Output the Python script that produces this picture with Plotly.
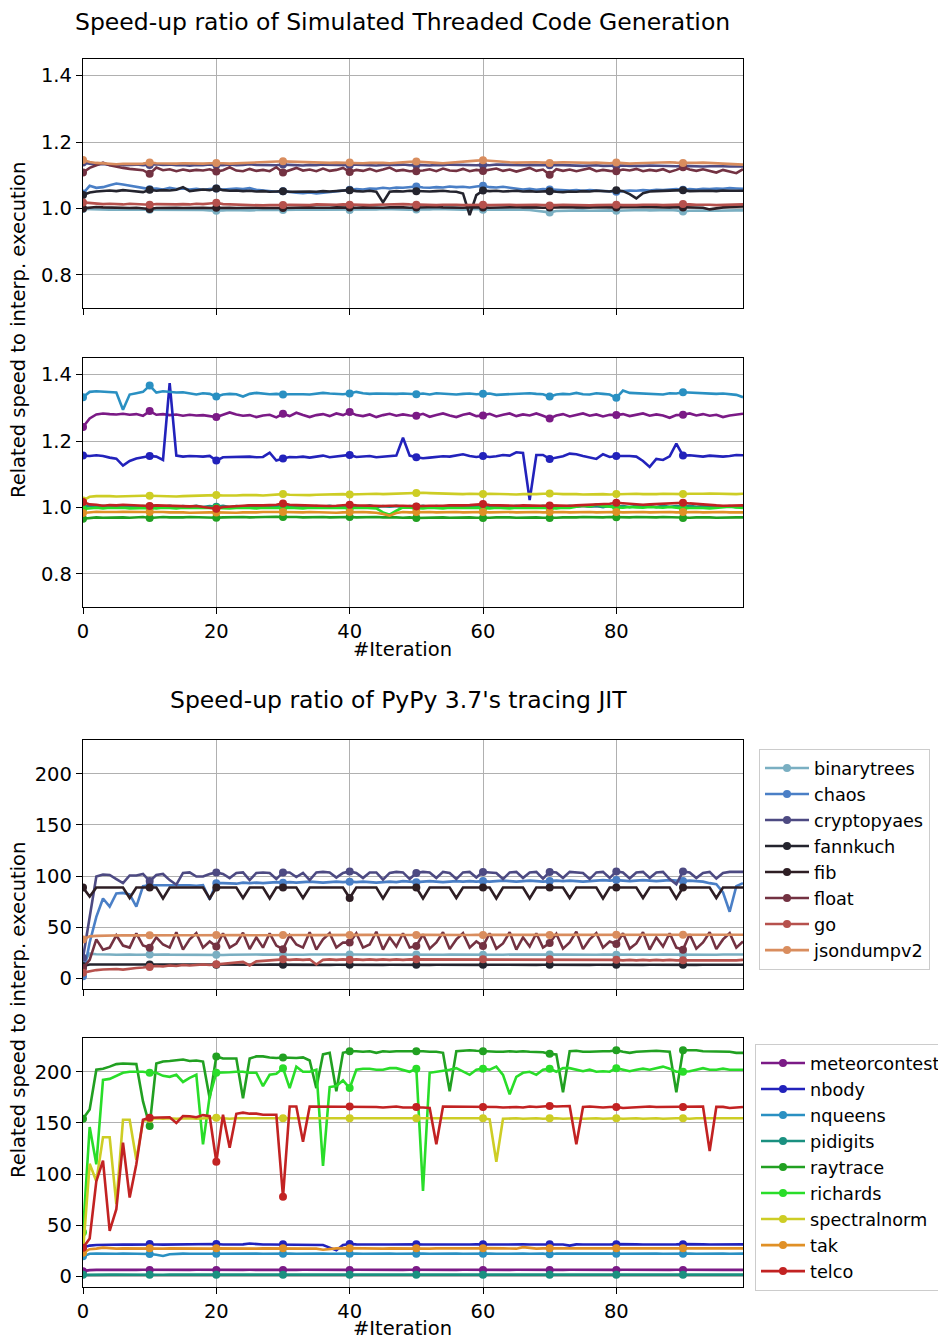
import plotly.graph_objects as go

iterations = list(range(100))

names_a = ["binarytrees", "chaos", "cryptopyaes", "fannkuch", "fib", "float", "go", "jsondumpv2"]
names_b = ["meteorcontest", "nbody", "nqueens", "pidigits", "raytrace", "richards", "spectralnorm", "tak", "telco"]

colors = {
    "binarytrees": "#7aafc2", "chaos": "#4a7fc6", "cryptopyaes": "#4d4a82", "fannkuch": "#24242e",
    "fib": "#2e1e24", "float": "#733242", "go": "#b6514d", "jsondumpv2": "#d98d5e",
    "meteorcontest": "#7b1a86", "nbody": "#2222bb", "nqueens": "#2a90c2", "pidigits": "#1a9080",
    "raytrace": "#21a021", "richards": "#29dd29", "spectralnorm": "#cdcd25", "tak": "#e09026",
    "telco": "#c22222",
}

# ---------------- Simulated Threaded Code Generation: group A ----------------
stcg_binarytrees = [0.998, 0.997, 0.996, 0.997, 0.996, 0.997, 0.996, 0.997, 0.996, 0.996,
0.996, 0.997, 0.996, 0.995, 0.996, 0.996, 0.995, 0.996, 0.995, 0.994,
0.993, 0.994, 0.995, 0.994, 0.995, 0.994, 0.995, 0.996, 0.995, 0.996,
0.995, 0.996, 0.997, 0.996, 0.997, 0.996, 0.996, 0.997, 0.996, 0.997,
0.995, 0.996, 0.997, 0.996, 0.997, 0.998, 0.997, 0.998, 0.997, 0.996,
0.997, 0.996, 0.997, 0.998, 0.997, 0.996, 0.997, 0.996, 0.997, 0.998,
0.996, 0.997, 0.996, 0.997, 0.996, 0.997, 0.996, 0.995, 0.993, 0.990,
0.988, 0.992, 0.993, 0.994, 0.993, 0.994, 0.993, 0.994, 0.995, 0.994,
0.993, 0.994, 0.995, 0.996, 0.995, 0.994, 0.995, 0.996, 0.995, 0.994,
0.991, 0.993, 0.994, 0.995, 0.994, 0.993, 0.994, 0.993, 0.994, 0.994]
stcg_chaos = [1.045, 1.068, 1.062, 1.064, 1.070, 1.075, 1.072, 1.068, 1.064, 1.060,
1.058, 1.060, 1.057, 1.062, 1.058, 1.060, 1.057, 1.059, 1.056, 1.058,
1.060, 1.057, 1.059, 1.060, 1.058, 1.061, 1.056, 1.054, 1.052, 1.050,
1.052, 1.049, 1.047, 1.046, 1.048, 1.045, 1.047, 1.050, 1.052, 1.055,
1.056, 1.058, 1.057, 1.060, 1.059, 1.062, 1.060, 1.063, 1.062, 1.064,
1.066, 1.063, 1.062, 1.064, 1.063, 1.066, 1.064, 1.065, 1.063, 1.066,
1.068, 1.064, 1.063, 1.065, 1.062, 1.060, 1.057, 1.059, 1.056, 1.058,
1.057, 1.055, 1.056, 1.054, 1.055, 1.053, 1.055, 1.054, 1.052, 1.053,
1.050, 1.052, 1.054, 1.053, 1.055, 1.054, 1.056, 1.055, 1.057, 1.058,
1.056, 1.058, 1.057, 1.059, 1.058, 1.060, 1.059, 1.061, 1.060, 1.059]
stcg_cryptopyaes = [1.138, 1.135, 1.132, 1.134, 1.131, 1.132, 1.130, 1.131, 1.132, 1.130,
1.131, 1.133, 1.131, 1.132, 1.130, 1.131, 1.129, 1.131, 1.130, 1.132,
1.131, 1.130, 1.132, 1.130, 1.131, 1.133, 1.131, 1.130, 1.131, 1.130,
1.132, 1.131, 1.130, 1.129, 1.131, 1.130, 1.132, 1.131, 1.130, 1.131,
1.130, 1.132, 1.131, 1.130, 1.129, 1.131, 1.130, 1.131, 1.132, 1.130,
1.131, 1.130, 1.129, 1.131, 1.130, 1.132, 1.131, 1.130, 1.129, 1.130,
1.131, 1.130, 1.132, 1.131, 1.130, 1.129, 1.130, 1.131, 1.130, 1.129,
1.130, 1.131, 1.130, 1.129, 1.130, 1.128, 1.129, 1.130, 1.128, 1.129,
1.128, 1.129, 1.128, 1.127, 1.128, 1.129, 1.128, 1.127, 1.128, 1.127,
1.128, 1.127, 1.128, 1.126, 1.127, 1.128, 1.127, 1.126, 1.127, 1.126]
stcg_fannkuch = [1.040, 1.048, 1.051, 1.053, 1.054, 1.052, 1.055, 1.053, 1.051, 1.049,
1.056, 1.053, 1.055, 1.054, 1.056, 1.064, 1.052, 1.055, 1.057, 1.055,
1.060, 1.055, 1.053, 1.054, 1.052, 1.053, 1.051, 1.052, 1.050, 1.051,
1.052, 1.050, 1.051, 1.052, 1.051, 1.050, 1.052, 1.051, 1.052, 1.053,
1.055, 1.052, 1.051, 1.053, 1.050, 1.018, 1.050, 1.052, 1.051, 1.053,
1.052, 1.053, 1.051, 1.052, 1.053, 1.051, 1.050, 1.045, 0.980, 1.040,
1.054, 1.052, 1.053, 1.051, 1.052, 1.053, 1.051, 1.052, 1.050, 1.051,
1.052, 1.050, 1.049, 1.051, 1.050, 1.052, 1.051, 1.053, 1.052, 1.051,
1.055, 1.052, 1.043, 1.030, 1.046, 1.051, 1.052, 1.053, 1.052, 1.054,
1.055, 1.052, 1.053, 1.054, 1.053, 1.052, 1.054, 1.053, 1.052, 1.053]
stcg_fib = [1.000, 1.003, 1.004, 1.003, 1.002, 1.003, 1.002, 1.001, 1.002, 1.001,
0.998, 1.001, 1.002, 1.001, 1.002, 1.001, 1.002, 1.003, 1.002, 1.001,
1.002, 1.001, 1.002, 1.001, 1.002, 1.003, 1.002, 1.001, 1.002, 1.001,
1.001, 1.002, 1.001, 1.002, 1.003, 1.002, 1.001, 1.002, 1.003, 1.002,
1.003, 1.002, 1.003, 1.002, 1.003, 1.002, 1.003, 1.004, 1.003, 1.002,
1.003, 1.002, 1.003, 1.004, 1.003, 1.002, 1.003, 1.002, 1.003, 1.004,
1.003, 1.002, 1.003, 1.002, 1.003, 1.004, 1.003, 1.004, 1.003, 1.002,
1.003, 1.004, 1.003, 1.004, 1.003, 1.002, 1.003, 1.004, 1.003, 1.004,
1.003, 1.004, 1.003, 1.004, 1.005, 1.004, 1.003, 1.004, 1.003, 1.004,
1.003, 1.004, 1.003, 1.002, 0.997, 1.001, 1.003, 1.004, 1.005, 1.006]
stcg_float = [1.108, 1.122, 1.130, 1.138, 1.130, 1.125, 1.122, 1.119, 1.117, 1.115,
1.104, 1.123, 1.115, 1.118, 1.112, 1.117, 1.113, 1.116, 1.114, 1.118,
1.111, 1.115, 1.124, 1.114, 1.112, 1.119, 1.113, 1.116, 1.112, 1.124,
1.108, 1.115, 1.122, 1.114, 1.117, 1.112, 1.120, 1.113, 1.116, 1.122,
1.110, 1.116, 1.113, 1.119, 1.112, 1.117, 1.123, 1.113, 1.116, 1.112,
1.112, 1.114, 1.118, 1.112, 1.120, 1.114, 1.113, 1.119, 1.112, 1.116,
1.113, 1.116, 1.120, 1.113, 1.117, 1.111, 1.116, 1.122, 1.113, 1.117,
1.101, 1.118, 1.113, 1.117, 1.112, 1.116, 1.121, 1.112, 1.116, 1.113,
1.112, 1.117, 1.114, 1.119, 1.112, 1.116, 1.113, 1.118, 1.110, 1.116,
1.124, 1.117, 1.113, 1.118, 1.112, 1.108, 1.116, 1.110, 1.106, 1.118]
stcg_go = [1.018, 1.016, 1.015, 1.013, 1.014, 1.013, 1.012, 1.014, 1.013, 1.012,
1.011, 1.013, 1.012, 1.011, 1.012, 1.013, 1.012, 1.014, 1.013, 1.015,
1.017, 1.013, 1.012, 1.011, 1.010, 1.011, 1.010, 1.009, 1.010, 1.009,
1.010, 1.011, 1.010, 1.011, 1.010, 1.012, 1.011, 1.010, 1.011, 1.012,
1.011, 1.012, 1.011, 1.010, 1.011, 1.012, 1.011, 1.012, 1.013, 1.012,
1.011, 1.012, 1.011, 1.010, 1.011, 1.012, 1.011, 1.010, 1.011, 1.010,
1.011, 1.010, 1.011, 1.012, 1.011, 1.010, 1.011, 1.010, 1.011, 1.010,
1.009, 1.010, 1.011, 1.010, 1.011, 1.010, 1.009, 1.010, 1.011, 1.010,
1.011, 1.010, 1.009, 1.010, 1.011, 1.012, 1.011, 1.010, 1.011, 1.012,
1.013, 1.012, 1.011, 1.012, 1.011, 1.010, 1.011, 1.012, 1.011, 1.012]
stcg_jsondumpv2 = [1.146, 1.140, 1.137, 1.135, 1.134, 1.133, 1.134, 1.133, 1.134, 1.135,
1.138, 1.136, 1.135, 1.134, 1.135, 1.136, 1.135, 1.134, 1.135, 1.136,
1.137, 1.136, 1.135, 1.136, 1.137, 1.136, 1.138, 1.139, 1.140, 1.141,
1.142, 1.141, 1.140, 1.139, 1.138, 1.137, 1.138, 1.137, 1.138, 1.137,
1.138, 1.137, 1.136, 1.137, 1.138, 1.137, 1.136, 1.138, 1.139, 1.140,
1.141, 1.139, 1.138, 1.137, 1.136, 1.138, 1.140, 1.142, 1.143, 1.144,
1.145, 1.143, 1.141, 1.140, 1.139, 1.138, 1.139, 1.140, 1.139, 1.138,
1.137, 1.138, 1.139, 1.138, 1.137, 1.136, 1.137, 1.138, 1.137, 1.136,
1.138, 1.136, 1.135, 1.136, 1.137, 1.138, 1.139, 1.140, 1.139, 1.138,
1.137, 1.136, 1.137, 1.138, 1.137, 1.136, 1.135, 1.134, 1.133, 1.132]

# ---------------- Simulated Threaded Code Generation: group B ----------------
stcg_meteorcontest = [1.242, 1.268, 1.280, 1.283, 1.281, 1.280, 1.282, 1.279, 1.281, 1.276,
1.290, 1.279, 1.281, 1.278, 1.280, 1.276, 1.279, 1.277, 1.278, 1.276,
1.272, 1.279, 1.286, 1.280, 1.276, 1.278, 1.272, 1.277, 1.279, 1.271,
1.282, 1.275, 1.285, 1.278, 1.272, 1.278, 1.281, 1.275, 1.283, 1.278,
1.287, 1.278, 1.275, 1.280, 1.272, 1.278, 1.282, 1.276, 1.280, 1.277,
1.276, 1.282, 1.273, 1.278, 1.283, 1.277, 1.272, 1.279, 1.283, 1.275,
1.277, 1.282, 1.274, 1.279, 1.283, 1.275, 1.280, 1.277, 1.283, 1.276,
1.268, 1.277, 1.281, 1.274, 1.279, 1.283, 1.276, 1.280, 1.274, 1.279,
1.278, 1.281, 1.275, 1.279, 1.283, 1.276, 1.280, 1.277, 1.270, 1.278,
1.279, 1.283, 1.277, 1.281, 1.276, 1.279, 1.272, 1.277, 1.280, 1.282]
stcg_nbody = [1.156, 1.155, 1.157, 1.155, 1.150, 1.147, 1.126, 1.140, 1.147, 1.152,
1.155, 1.153, 1.143, 1.374, 1.156, 1.153, 1.155, 1.154, 1.153, 1.155,
1.141, 1.151, 1.152, 1.151, 1.152, 1.153, 1.151, 1.152, 1.165, 1.141,
1.147, 1.152, 1.151, 1.153, 1.150, 1.152, 1.156, 1.151, 1.154, 1.155,
1.158, 1.152, 1.153, 1.155, 1.151, 1.152, 1.154, 1.156, 1.210, 1.156,
1.151, 1.148, 1.150, 1.152, 1.154, 1.153, 1.157, 1.160, 1.155, 1.152,
1.155, 1.152, 1.154, 1.158, 1.156, 1.166, 1.164, 1.022, 1.158, 1.158,
1.146, 1.150, 1.154, 1.162, 1.160, 1.155, 1.150, 1.146, 1.160, 1.152,
1.155, 1.156, 1.155, 1.153, 1.140, 1.122, 1.146, 1.143, 1.154, 1.192,
1.156, 1.157, 1.155, 1.153, 1.156, 1.154, 1.153, 1.155, 1.158, 1.157]
stcg_nqueens = [1.332, 1.348, 1.350, 1.348, 1.347, 1.346, 1.294, 1.340, 1.344, 1.348,
1.367, 1.346, 1.350, 1.347, 1.346, 1.347, 1.343, 1.340, 1.344, 1.342,
1.334, 1.340, 1.342, 1.341, 1.334, 1.342, 1.345, 1.343, 1.341, 1.342,
1.340, 1.341, 1.342, 1.341, 1.340, 1.342, 1.345, 1.343, 1.342, 1.341,
1.343, 1.348, 1.344, 1.342, 1.343, 1.342, 1.341, 1.342, 1.343, 1.342,
1.341, 1.343, 1.340, 1.344, 1.342, 1.341, 1.340, 1.342, 1.343, 1.341,
1.342, 1.343, 1.339, 1.340, 1.342, 1.341, 1.343, 1.344, 1.342, 1.341,
1.334, 1.340, 1.342, 1.341, 1.345, 1.341, 1.340, 1.344, 1.342, 1.340,
1.330, 1.352, 1.345, 1.344, 1.343, 1.341, 1.342, 1.340, 1.344, 1.343,
1.347, 1.346, 1.343, 1.342, 1.341, 1.342, 1.343, 1.341, 1.339, 1.332]
stcg_pidigits = [1.000, 1.006, 1.002, 1.005, 1.001, 1.004, 1.001, 1.005, 1.002, 1.004,
1.003, 1.006, 1.002, 1.005, 1.001, 1.004, 1.002, 1.005, 1.001, 1.004,
1.002, 1.005, 1.001, 1.004, 1.002, 1.006, 1.002, 1.005, 1.001, 1.004,
1.003, 1.006, 1.002, 1.005, 1.001, 1.004, 1.002, 1.005, 1.001, 1.004,
1.003, 1.005, 1.002, 1.006, 1.001, 1.004, 1.002, 1.005, 1.001, 1.004,
1.002, 1.005, 1.001, 1.004, 1.002, 1.005, 1.001, 1.004, 1.002, 1.006,
1.003, 1.005, 1.002, 1.004, 1.001, 1.005, 1.002, 1.004, 1.001, 1.005,
1.002, 1.004, 1.001, 1.005, 1.002, 1.006, 1.002, 1.004, 1.001, 1.005,
1.002, 1.004, 1.001, 1.005, 1.002, 1.004, 1.001, 1.005, 1.002, 1.004,
1.003, 1.005, 1.002, 1.004, 1.001, 1.005, 1.002, 1.004, 1.001, 1.003]
stcg_raytrace = [0.966, 0.968, 0.970, 0.969, 0.970, 0.971, 0.970, 0.969, 0.970, 0.971,
0.968, 0.970, 0.971, 0.970, 0.969, 0.970, 0.971, 0.970, 0.971, 0.970,
0.969, 0.970, 0.971, 0.972, 0.971, 0.970, 0.971, 0.970, 0.971, 0.972,
0.971, 0.972, 0.971, 0.970, 0.971, 0.972, 0.971, 0.970, 0.971, 0.972,
0.971, 0.970, 0.971, 0.972, 0.971, 0.970, 0.971, 0.970, 0.969, 0.970,
0.968, 0.969, 0.970, 0.971, 0.970, 0.969, 0.970, 0.971, 0.970, 0.969,
0.968, 0.969, 0.970, 0.971, 0.970, 0.969, 0.970, 0.971, 0.970, 0.969,
0.968, 0.969, 0.970, 0.969, 0.970, 0.971, 0.970, 0.969, 0.970, 0.971,
0.970, 0.969, 0.970, 0.971, 0.970, 0.969, 0.970, 0.971, 0.970, 0.969,
0.968, 0.969, 0.970, 0.971, 0.970, 0.969, 0.970, 0.971, 0.970, 0.970]
stcg_richards = [0.995, 0.998, 0.999, 0.997, 0.999, 0.998, 0.999, 0.997, 0.998, 0.999,
0.998, 0.997, 0.999, 0.998, 0.997, 0.999, 0.998, 0.997, 0.998, 0.999,
0.998, 0.999, 0.997, 0.998, 0.999, 0.998, 0.997, 0.999, 0.998, 0.997,
0.998, 0.999, 0.998, 0.997, 0.999, 0.998, 0.997, 0.998, 0.999, 0.998,
0.997, 0.998, 0.999, 0.998, 0.997, 0.985, 0.978, 0.990, 1.000, 0.999,
0.998, 0.997, 0.999, 0.998, 0.997, 0.999, 0.998, 0.997, 0.998, 0.999,
0.998, 0.997, 0.999, 0.998, 0.997, 0.999, 0.998, 0.997, 0.998, 0.999,
0.998, 0.997, 0.999, 0.998, 1.002, 1.005, 1.003, 1.009, 1.004, 1.001,
1.000, 0.999, 1.001, 1.000, 0.999, 1.001, 1.000, 0.999, 1.001, 0.998,
0.997, 0.998, 0.999, 0.998, 0.997, 0.999, 1.001, 1.002, 1.000, 0.998]
stcg_spectralnorm = [1.021, 1.032, 1.034, 1.035, 1.034, 1.033, 1.034, 1.035, 1.034, 1.035,
1.035, 1.034, 1.033, 1.034, 1.033, 1.034, 1.035, 1.034, 1.035, 1.036,
1.037, 1.036, 1.035, 1.036, 1.037, 1.038, 1.037, 1.036, 1.037, 1.038,
1.040, 1.038, 1.037, 1.038, 1.037, 1.038, 1.039, 1.038, 1.039, 1.040,
1.039, 1.040, 1.039, 1.040, 1.041, 1.040, 1.041, 1.042, 1.041, 1.042,
1.043, 1.044, 1.043, 1.042, 1.041, 1.040, 1.041, 1.040, 1.041, 1.040,
1.040, 1.041, 1.040, 1.041, 1.040, 1.039, 1.040, 1.039, 1.040, 1.041,
1.042, 1.041, 1.040, 1.041, 1.040, 1.039, 1.040, 1.041, 1.040, 1.039,
1.040, 1.041, 1.040, 1.041, 1.040, 1.039, 1.040, 1.041, 1.040, 1.041,
1.040, 1.041, 1.040, 1.041, 1.042, 1.041, 1.040, 1.041, 1.040, 1.041]
stcg_tak = [0.983, 0.986, 0.987, 0.986, 0.985, 0.986, 0.987, 0.986, 0.985, 0.986,
0.986, 0.987, 0.986, 0.985, 0.986, 0.985, 0.984, 0.985, 0.984, 0.985,
0.985, 0.984, 0.985, 0.984, 0.985, 0.984, 0.985, 0.986, 0.985, 0.986,
0.986, 0.985, 0.986, 0.985, 0.986, 0.985, 0.984, 0.985, 0.984, 0.985,
0.986, 0.985, 0.986, 0.985, 0.984, 0.980, 0.975, 0.983, 0.986, 0.985,
0.986, 0.985, 0.986, 0.985, 0.986, 0.987, 0.986, 0.985, 0.986, 0.985,
0.986, 0.985, 0.986, 0.985, 0.986, 0.985, 0.986, 0.985, 0.986, 0.985,
0.986, 0.985, 0.986, 0.985, 0.986, 0.985, 0.986, 0.985, 0.986, 0.985,
0.986, 0.985, 0.986, 0.985, 0.986, 0.985, 0.986, 0.985, 0.986, 0.985,
0.986, 0.985, 0.986, 0.985, 0.986, 0.985, 0.986, 0.985, 0.986, 0.985]
stcg_telco = [1.016, 1.009, 1.008, 1.005, 1.007, 1.006, 1.008, 1.007, 1.006, 1.005,
1.004, 1.006, 1.005, 1.004, 1.005, 1.004, 1.003, 1.004, 1.002, 1.000,
0.996, 1.001, 1.003, 1.004, 1.005, 1.006, 1.005, 1.006, 1.007, 1.008,
1.012, 1.008, 1.007, 1.006, 1.005, 1.006, 1.005, 1.004, 1.005, 1.006,
1.008, 1.006, 1.005, 1.004, 1.003, 1.004, 1.005, 1.006, 1.005, 1.004,
1.003, 1.004, 1.005, 1.004, 1.005, 1.006, 1.005, 1.006, 1.007, 1.008,
1.010, 1.007, 1.006, 1.005, 1.004, 1.005, 1.006, 1.005, 1.004, 1.005,
1.006, 1.005, 1.006, 1.005, 1.006, 1.007, 1.008, 1.007, 1.009, 1.011,
1.014, 1.012, 1.010, 1.009, 1.008, 1.009, 1.010, 1.011, 1.012, 1.013,
1.014, 1.012, 1.010, 1.008, 1.007, 1.006, 1.005, 1.006, 1.005, 1.006]

# ---------------- PyPy 3.7 tracing JIT: group A ----------------
pypy_binarytrees = [15.0, 24.0, 23.5, 23.0, 23.2, 23.0, 23.3, 23.1, 23.0, 23.2,
23.2, 23.0, 23.3, 23.1, 23.0, 23.2, 23.1, 23.0, 23.2, 23.1,
23.0, 22.8, 23.0, 23.2, 23.1, 23.0, 23.2, 23.1, 23.0, 23.2,
23.1, 23.3, 23.1, 23.0, 23.2, 23.1, 23.0, 23.2, 23.1, 23.0,
23.2, 23.3, 23.1, 23.0, 23.2, 23.1, 23.0, 23.2, 23.1, 23.0,
23.2, 23.1, 23.3, 23.1, 23.0, 23.2, 23.1, 23.0, 23.2, 23.1,
23.0, 23.2, 23.1, 23.0, 23.2, 23.1, 23.0, 23.2, 23.1, 23.0,
23.2, 23.1, 23.3, 23.1, 23.0, 23.2, 23.1, 23.0, 23.2, 23.1,
23.0, 23.2, 23.1, 23.0, 23.2, 23.1, 23.0, 23.2, 23.1, 23.0,
23.2, 23.1, 23.0, 23.2, 23.1, 23.0, 23.2, 23.1, 23.0, 23.2]
pypy_chaos = [2.0, 35.0, 60.0, 78.0, 70.0, 83.0, 83.5, 82.0, 70.0, 90.0,
91.0, 91.0, 91.0, 91.0, 91.0, 91.5, 91.0, 90.5, 91.0, 77.0,
93.0, 93.0, 93.0, 92.5, 93.5, 93.0, 93.5, 93.0, 93.5, 94.0,
93.5, 94.0, 93.5, 94.0, 94.5, 94.0, 93.5, 94.0, 94.5, 94.0,
94.5, 94.0, 94.5, 94.0, 93.5, 94.0, 94.5, 94.0, 95.0, 94.5,
94.0, 94.5, 95.0, 94.5, 94.0, 94.5, 95.0, 94.5, 95.0, 94.5,
95.0, 94.5, 95.0, 95.5, 95.0, 94.5, 95.0, 95.5, 95.0, 94.5,
95.0, 95.5, 95.0, 95.5, 95.0, 94.5, 95.0, 95.5, 96.0, 95.5,
96.0, 95.5, 95.0, 95.5, 96.0, 95.5, 95.0, 95.5, 96.0, 95.5,
95.0, 95.5, 95.0, 94.5, 93.0, 92.0, 84.0, 65.0, 90.0, 93.0]
pypy_cryptopyaes = [20.0, 60.0, 99.5, 101.5, 101.0, 97.0, 93.0, 100.5, 100.5, 102.0,
95.0, 101.0, 102.0, 96.0, 91.5, 103.0, 103.5, 99.5, 99.5, 102.0,
103.5, 102.0, 98.0, 103.0, 103.5, 96.0, 103.0, 103.5, 103.0, 97.0,
103.5, 103.5, 99.0, 103.0, 96.0, 103.5, 104.0, 103.5, 98.5, 103.0,
104.5, 103.0, 98.0, 103.5, 103.5, 96.5, 103.0, 104.0, 103.5, 97.0,
103.0, 104.0, 103.5, 98.0, 104.0, 103.0, 97.0, 103.5, 104.0, 98.5,
104.0, 103.5, 103.0, 97.0, 103.5, 104.0, 98.0, 103.5, 104.0, 97.5,
104.0, 103.5, 98.0, 104.0, 103.5, 103.0, 97.0, 103.5, 104.0, 98.0,
104.5, 103.5, 97.5, 103.5, 104.0, 98.0, 103.5, 104.0, 97.0, 92.0,
104.5, 103.5, 98.0, 103.0, 104.0, 97.5, 103.0, 104.0, 104.0, 104.0]
pypy_fannkuch = [12.0, 13.5, 13.4, 13.5, 13.3, 13.4, 13.5, 13.4, 13.3, 13.4,
13.5, 13.4, 13.3, 13.4, 13.5, 13.4, 13.3, 13.4, 13.5, 13.4,
13.3, 13.4, 13.3, 13.2, 13.3, 13.2, 13.3, 13.2, 13.3, 13.2,
13.2, 13.3, 13.2, 13.1, 13.2, 13.3, 13.2, 13.1, 13.2, 13.1,
13.2, 13.1, 13.2, 13.1, 13.2, 13.1, 13.2, 13.1, 13.2, 13.1,
13.1, 13.2, 13.1, 13.2, 13.1, 13.2, 13.1, 13.2, 13.1, 13.2,
13.1, 13.2, 13.1, 13.2, 13.1, 13.2, 13.1, 13.2, 13.1, 13.2,
13.1, 13.2, 13.1, 13.2, 13.1, 13.2, 13.1, 13.2, 13.1, 13.2,
13.1, 13.2, 13.1, 13.2, 13.1, 13.2, 13.1, 13.2, 13.1, 13.2,
13.1, 13.2, 13.1, 13.2, 13.1, 13.2, 13.1, 13.2, 13.1, 13.2]
pypy_fib = [88.8, 80.0, 88.8, 88.8, 88.8, 88.8, 88.8, 78.5, 88.8, 88.8,
88.8, 88.8, 78.0, 88.8, 88.8, 88.8, 88.8, 88.8, 88.8, 78.0,
88.8, 88.8, 88.8, 88.8, 78.5, 88.8, 88.8, 88.8, 78.0, 88.8,
88.8, 88.8, 88.8, 78.5, 88.8, 88.8, 88.8, 88.8, 88.8, 88.8,
78.5, 88.8, 88.8, 88.8, 88.8, 78.0, 88.8, 88.8, 88.8, 88.8,
88.8, 78.0, 88.8, 88.8, 88.8, 88.8, 78.5, 88.8, 88.8, 88.8,
88.8, 88.8, 78.0, 88.8, 88.8, 88.8, 88.8, 78.0, 88.8, 88.8,
88.8, 88.8, 88.8, 78.5, 88.8, 88.8, 88.8, 88.8, 78.0, 88.8,
88.8, 88.8, 88.8, 88.8, 78.5, 88.8, 88.8, 88.8, 88.8, 78.0,
88.8, 88.8, 88.8, 88.8, 88.8, 78.5, 88.8, 88.8, 88.8, 88.8]
pypy_float = [10.0, 18.0, 38.0, 28.0, 30.0, 42.0, 32.0, 30.0, 44.0, 32.0,
29.8, 40.0, 33.0, 30.0, 45.0, 28.0, 38.0, 44.0, 30.0, 36.0,
31.0, 44.0, 30.0, 34.0, 44.5, 28.5, 40.0, 30.0, 44.0, 32.0,
28.4, 42.0, 33.0, 30.0, 45.0, 28.0, 38.0, 44.0, 30.0, 35.0,
34.9, 44.0, 30.0, 33.0, 45.5, 28.0, 40.0, 31.0, 44.0, 30.0,
31.6, 43.0, 29.0, 35.0, 45.0, 28.5, 38.0, 44.0, 30.0, 36.0,
31.5, 44.0, 29.0, 34.0, 45.0, 28.0, 40.0, 31.0, 44.0, 30.0,
34.5, 43.5, 29.0, 35.0, 45.5, 28.5, 38.0, 44.0, 30.0, 36.0,
33.5, 44.0, 29.0, 34.0, 45.0, 28.0, 40.0, 31.0, 44.0, 30.0,
28.0, 43.0, 29.0, 35.0, 45.0, 28.5, 38.0, 44.0, 30.0, 36.0]
pypy_go = [5.5, 7.0, 8.0, 8.5, 8.8, 9.0, 8.5, 9.5, 10.0, 10.5,
11.0, 12.0, 11.5, 12.5, 12.0, 13.0, 12.5, 13.0, 13.5, 13.0,
13.6, 14.5, 15.0, 15.5, 16.0, 12.5, 16.5, 17.0, 17.5, 17.5,
18.5, 18.0, 18.5, 18.0, 18.5, 13.5, 18.0, 18.5, 18.0, 18.5,
18.0, 18.5, 18.0, 18.5, 18.0, 18.5, 18.0, 18.5, 18.0, 18.5,
18.5, 18.0, 18.5, 18.0, 18.5, 18.0, 18.5, 18.0, 18.5, 18.0,
18.5, 18.0, 18.5, 18.0, 18.5, 18.0, 18.5, 18.0, 18.5, 18.0,
18.5, 18.0, 18.5, 18.0, 18.5, 18.0, 18.5, 18.0, 18.5, 18.0,
18.0, 17.5, 18.0, 17.5, 18.0, 17.5, 18.0, 17.5, 18.0, 17.5,
17.5, 17.0, 17.5, 17.0, 17.5, 17.0, 17.5, 17.0, 17.5, 18.0]
pypy_jsondumpv2 = [38.0, 41.0, 41.5, 41.8, 42.0, 41.8, 42.0, 41.9, 42.0, 42.1,
42.0, 42.1, 42.0, 41.9, 42.0, 42.1, 42.0, 42.1, 42.2, 42.1,
42.2, 42.1, 42.2, 42.1, 42.2, 42.1, 42.2, 42.3, 42.2, 42.1,
42.2, 42.3, 42.2, 42.3, 42.2, 42.3, 42.2, 42.3, 42.2, 42.3,
42.3, 42.2, 42.3, 42.4, 42.3, 42.2, 42.3, 42.4, 42.3, 42.2,
42.3, 42.4, 42.3, 42.4, 42.3, 42.4, 42.3, 42.4, 42.3, 42.4,
42.4, 42.3, 42.4, 42.5, 42.4, 42.3, 42.4, 42.5, 42.4, 42.3,
42.4, 42.5, 42.4, 42.5, 42.4, 42.5, 42.4, 42.5, 42.4, 42.5,
42.5, 42.4, 42.5, 42.6, 42.5, 42.4, 42.5, 42.6, 42.5, 42.4,
42.5, 42.6, 42.5, 42.6, 42.5, 42.6, 42.5, 42.6, 42.5, 42.6]

# ---------------- PyPy 3.7 tracing JIT: group B ----------------
pypy_meteorcontest = [5.0, 6.0, 6.2, 6.1, 6.2, 6.3, 6.2, 6.1, 6.2, 6.3,
6.2, 6.1, 6.2, 6.3, 6.2, 6.1, 6.2, 6.3, 6.2, 6.1,
6.2, 6.3, 6.2, 6.1, 6.2, 6.3, 6.2, 6.1, 6.2, 6.3,
6.2, 6.1, 6.2, 6.3, 6.2, 6.1, 6.2, 6.3, 6.2, 6.1,
6.2, 6.3, 6.2, 6.1, 6.2, 6.3, 6.2, 6.1, 6.2, 6.3,
6.2, 6.1, 6.2, 6.3, 6.2, 6.1, 6.2, 6.3, 6.2, 6.1,
6.2, 6.3, 6.2, 6.1, 6.2, 6.3, 6.2, 6.1, 6.2, 6.3,
6.2, 6.1, 6.2, 6.3, 6.2, 6.1, 6.2, 6.3, 6.2, 6.1,
6.2, 6.3, 6.2, 6.1, 6.2, 6.3, 6.2, 6.1, 6.2, 6.3,
6.2, 6.1, 6.2, 6.3, 6.2, 6.1, 6.2, 6.3, 6.2, 6.2]
pypy_nbody = [28.0, 30.0, 30.5, 30.8, 31.0, 30.8, 31.0, 30.9, 31.0, 31.1,
31.5, 31.0, 30.9, 31.0, 31.1, 31.0, 30.9, 31.0, 31.1, 31.0,
31.5, 31.0, 30.9, 31.0, 31.2, 32.0, 31.3, 31.0, 31.1, 31.0,
31.2, 31.1, 31.0, 31.2, 31.1, 31.0, 30.5, 28.0, 25.5, 30.5,
31.5, 31.2, 31.0, 31.1, 31.0, 31.1, 31.0, 31.2, 31.1, 31.0,
31.3, 31.1, 31.0, 31.2, 31.1, 31.0, 31.2, 31.1, 31.0, 31.2,
31.4, 31.1, 31.0, 31.2, 31.1, 31.0, 31.2, 31.1, 31.0, 31.2,
31.4, 31.2, 31.0, 30.0, 31.2, 31.1, 31.0, 31.2, 31.1, 31.0,
31.4, 31.1, 31.0, 31.2, 31.1, 31.0, 31.2, 31.1, 31.0, 31.2,
31.4, 31.1, 31.0, 31.2, 31.1, 31.0, 31.2, 31.1, 31.0, 31.2]
pypy_nqueens = [19.5, 22.0, 22.2, 22.0, 22.1, 22.0, 22.2, 22.1, 22.0, 22.1,
21.8, 21.0, 19.8, 21.5, 22.0, 22.1, 22.0, 22.2, 22.1, 22.0,
22.0, 22.1, 22.0, 22.2, 22.1, 22.0, 22.1, 22.0, 22.2, 22.1,
22.0, 22.1, 22.0, 22.2, 22.1, 22.0, 22.1, 22.0, 22.2, 22.1,
22.0, 22.1, 22.0, 22.2, 22.1, 22.0, 22.1, 22.0, 22.2, 22.1,
22.0, 22.1, 22.0, 22.2, 22.1, 22.0, 22.1, 22.0, 22.2, 22.1,
22.0, 22.1, 22.0, 22.2, 22.1, 22.0, 22.1, 22.0, 22.2, 22.1,
21.5, 22.3, 22.1, 22.2, 22.1, 22.0, 22.1, 22.0, 22.2, 22.1,
22.0, 22.1, 22.0, 22.2, 22.1, 22.0, 22.1, 22.0, 22.2, 22.1,
22.0, 22.1, 22.0, 22.2, 22.1, 22.0, 22.1, 22.0, 22.2, 22.1]
pypy_pidigits = [1.4, 1.6, 1.6, 1.5, 1.6, 1.6, 1.5, 1.6, 1.6, 1.5,
1.6, 1.6, 1.5, 1.6, 1.6, 1.5, 1.6, 1.6, 1.5, 1.6,
1.6, 1.6, 1.5, 1.6, 1.6, 1.5, 1.6, 1.6, 1.5, 1.6,
1.6, 1.6, 1.5, 1.6, 1.6, 1.5, 1.6, 1.6, 1.5, 1.6,
1.6, 1.6, 1.5, 1.6, 1.6, 1.5, 1.6, 1.6, 1.5, 1.6,
1.6, 1.6, 1.5, 1.6, 1.6, 1.5, 1.6, 1.6, 1.5, 1.6,
1.6, 1.6, 1.5, 1.6, 1.6, 1.5, 1.6, 1.6, 1.5, 1.6,
1.6, 1.6, 1.5, 1.6, 1.6, 1.5, 1.6, 1.6, 1.5, 1.6,
1.6, 1.6, 1.5, 1.6, 1.6, 1.5, 1.6, 1.6, 1.5, 1.6,
1.6, 1.6, 1.5, 1.6, 1.6, 1.5, 1.6, 1.6, 1.5, 1.6]
pypy_raytrace = [154.0, 163.0, 202.0, 203.0, 205.0, 207.5, 208.0, 208.0, 207.5, 171.0,
147.0, 208.0, 210.0, 210.5, 211.0, 212.0, 210.5, 211.0, 210.0, 174.0,
215.0, 213.0, 213.0, 213.0, 174.0, 213.0, 215.0, 215.0, 214.0, 213.5,
214.0, 213.5, 213.5, 214.0, 211.0, 184.0, 217.0, 218.5, 181.0, 218.5,
220.0, 220.0, 219.5, 220.0, 218.5, 220.0, 219.5, 220.0, 220.0, 220.5,
220.0, 220.0, 219.5, 219.5, 218.5, 181.0, 220.0, 220.5, 221.0, 220.5,
220.0, 219.5, 219.5, 219.5, 220.0, 219.5, 220.0, 219.5, 219.5, 219.0,
217.5, 217.0, 180.0, 220.0, 220.5, 219.5, 219.5, 220.0, 220.0, 220.0,
221.0, 219.5, 218.5, 219.5, 220.0, 220.5, 220.5, 220.0, 219.5, 180.0,
221.0, 221.0, 221.0, 220.0, 220.0, 220.0, 220.0, 219.5, 218.5, 218.5]
pypy_richards = [43.0, 146.0, 109.5, 192.0, 193.0, 196.0, 199.0, 200.0, 200.0, 200.0,
199.0, 199.0, 196.0, 195.0, 197.0, 190.0, 194.0, 197.0, 129.0, 176.0,
199.0, 199.0, 199.5, 200.0, 200.0, 199.0, 199.0, 186.0, 197.0, 198.0,
203.5, 184.0, 205.0, 200.0, 200.0, 202.0, 108.0, 185.0, 186.0, 191.5,
184.0, 202.0, 203.0, 203.0, 202.0, 202.0, 203.5, 203.5, 202.0, 200.0,
203.0, 83.5, 199.0, 200.0, 200.5, 202.0, 203.5, 200.0, 197.0, 202.0,
203.0, 202.0, 205.0, 197.0, 178.0, 195.0, 199.0, 200.0, 197.0, 202.0,
203.0, 200.0, 203.5, 203.5, 202.0, 200.5, 202.0, 200.0, 200.5, 200.0,
203.5, 202.0, 200.5, 202.0, 203.0, 202.0, 203.5, 205.0, 203.0, 200.0,
200.0, 200.5, 202.0, 203.5, 202.0, 202.0, 203.0, 202.0, 202.0, 202.0]
pypy_spectralnorm = [24.0, 110.0, 93.0, 136.0, 136.0, 70.5, 153.0, 153.0, 114.0, 151.7,
154.0, 154.5, 154.0, 154.5, 154.0, 154.5, 154.5, 154.0, 154.5, 154.5,
155.0, 154.5, 154.0, 154.5, 154.5, 154.0, 154.5, 154.5, 154.0, 154.5,
154.5, 154.0, 154.5, 154.5, 154.0, 154.5, 154.5, 154.0, 154.5, 154.5,
154.5, 154.0, 154.5, 154.5, 154.0, 154.5, 154.5, 154.0, 154.5, 154.5,
154.5, 154.0, 154.5, 154.5, 154.0, 154.5, 154.5, 154.0, 154.5, 154.5,
154.5, 153.5, 112.0, 154.0, 154.5, 154.5, 154.0, 154.5, 154.5, 154.0,
154.5, 154.5, 154.0, 154.5, 154.5, 154.0, 154.5, 154.5, 154.0, 154.5,
154.5, 154.0, 154.5, 154.5, 154.0, 154.5, 154.5, 154.0, 154.5, 154.5,
154.5, 154.0, 154.5, 154.5, 154.0, 154.5, 154.5, 154.0, 154.5, 154.5]
pypy_tak = [23.0, 26.5, 27.0, 28.0, 27.5, 27.0, 27.3, 27.2, 27.0, 27.3,
27.5, 27.2, 27.0, 27.3, 27.2, 27.0, 27.3, 27.5, 27.2, 27.0,
27.3, 27.2, 27.0, 27.3, 27.5, 27.2, 27.0, 27.3, 27.2, 27.0,
27.3, 27.2, 27.0, 27.3, 27.2, 27.0, 26.0, 27.0, 27.3, 27.5,
27.3, 27.2, 27.0, 27.3, 27.2, 27.0, 27.3, 27.2, 27.0, 27.3,
27.5, 27.2, 27.0, 27.3, 27.2, 27.0, 27.3, 27.2, 27.0, 27.3,
27.5, 27.2, 27.0, 27.3, 27.2, 27.0, 28.5, 27.5, 27.0, 27.3,
27.3, 27.2, 27.0, 27.3, 27.2, 27.0, 27.3, 27.2, 27.0, 27.3,
27.5, 27.2, 27.0, 27.3, 27.2, 27.0, 27.3, 27.2, 27.0, 27.3,
27.5, 27.2, 27.0, 27.3, 27.2, 27.0, 27.3, 27.2, 27.0, 27.3]
pypy_telco = [28.0, 37.0, 93.0, 113.0, 44.5, 65.6, 130.6, 77.0, 109.5, 153.0,
155.0, 155.0, 155.0, 155.5, 150.0, 156.7, 156.5, 155.5, 157.6, 156.5,
112.0, 158.0, 125.7, 158.9, 160.0, 159.0, 159.0, 158.0, 158.0, 158.0,
77.7, 166.0, 166.0, 131.6, 166.0, 166.0, 165.5, 166.0, 165.5, 165.5,
166.0, 165.5, 165.5, 166.0, 165.5, 165.0, 165.5, 166.0, 165.0, 165.0,
165.5, 165.0, 164.5, 129.0, 166.0, 166.0, 165.5, 166.0, 165.5, 165.5,
165.5, 166.0, 165.5, 165.0, 165.5, 165.5, 165.0, 166.0, 165.5, 166.0,
166.5, 166.0, 166.0, 166.5, 129.0, 165.6, 166.0, 165.5, 165.0, 165.5,
165.6, 164.5, 165.0, 165.5, 166.0, 166.0, 165.5, 165.5, 165.5, 165.5,
165.6, 166.0, 166.0, 166.0, 122.5, 165.6, 165.6, 164.5, 165.0, 165.6]

panels = [
    ("x", "y", {n: globals()["stcg_" + n] for n in names_a}, None),
    ("x2", "y2", {n: globals()["stcg_" + n] for n in names_b}, None),
    ("x3", "y3", {n: globals()["pypy_" + n] for n in names_a}, "legend"),
    ("x4", "y4", {n: globals()["pypy_" + n] for n in names_b}, "legend2"),
]

# page has an 8px body margin: figure occupies screen pixels 8..946 x 8..1340
OFF = 8
W, H = 946 - OFF, 1340 - OFF
FONT = "DejaVu Sans"
LW = 2.6
MS = 8
TICK_FS = 19.5
LEG_FS = 17.7
TITLE_FS = 23.5

def sx(p):
    return (p - OFF) / W

def sy(p):
    return 1 - (p - OFF) / H

fig = go.Figure()
for xa, ya, series, leg in panels:
    for name, vals in series.items():
        c = colors[name]
        fig.add_trace(go.Scatter(x=iterations, y=vals, mode="lines", xaxis=xa, yaxis=ya,
                                 line=dict(color=c, width=LW), showlegend=False, hoverinfo="skip"))
        fig.add_trace(go.Scatter(x=iterations[::10], y=vals[::10], mode="markers", xaxis=xa, yaxis=ya,
                                 marker=dict(color=c, size=MS), showlegend=False, hoverinfo="skip"))
    if leg:
        for name in series:
            c = colors[name]
            fig.add_trace(go.Scatter(x=[None], y=[None], mode="lines+markers", xaxis=xa, yaxis=ya,
                                     name=name, legend=leg, legendgroup=name,
                                     line=dict(color=c, width=LW), marker=dict(color=c, size=MS)))

axis_common = dict(showline=True, linecolor="black", linewidth=1.4, mirror=True,
                   showgrid=True, gridcolor="#b0b0b0", gridwidth=1.4, zeroline=False,
                   ticks="outside", ticklen=6, tickwidth=1.4, tickcolor="black",
                   tickfont=dict(family=FONT, size=TICK_FS, color="black"))

xdom = [sx(83), sx(743)]
ydoms = [[sy(308), sy(59)], [sy(607), sy(358)], [sy(989), sy(740)], [sy(1287), sy(1038)]]

layout = dict(width=W, height=H, margin=dict(l=0, r=0, t=0, b=0, autoexpand=False),
              paper_bgcolor="white", plot_bgcolor="white",
              font=dict(family=FONT, size=TICK_FS, color="black"))

for k in range(4):
    xk = "xaxis" if k == 0 else f"xaxis{k+1}"
    yk = "yaxis" if k == 0 else f"yaxis{k+1}"
    ya_name = "y" if k == 0 else f"y{k+1}"
    layout[xk] = dict(axis_common, domain=xdom, range=[0, 99], tickvals=[0, 20, 40, 60, 80],
                      showticklabels=(k in (1, 3)), anchor=ya_name)
    if k < 2:
        layout[yk] = dict(axis_common, domain=ydoms[k], range=[0.7, 1.45],
                          tickvals=[0.8, 1.0, 1.2, 1.4], tickformat=".1f",
                          anchor="x" if k == 0 else f"x{k+1}")
    else:
        layout[yk] = dict(axis_common, domain=ydoms[k], range=[-10.5, 233],
                          tickvals=[0, 50, 100, 150, 200], anchor=f"x{k+1}")

leg_common = dict(xanchor="left", yanchor="top", bgcolor="white", bordercolor="#cccccc",
                  borderwidth=1, font=dict(family=FONT, size=LEG_FS, color="black"),
                  tracegroupgap=0, itemwidth=44)
layout["legend"] = dict(leg_common, x=sx(759), y=sy(749))
layout["legend2"] = dict(leg_common, x=sx(755), y=sy(1044))

def text(x, y, s, size=TICK_FS, angle=0):
    return dict(x=sx(x), y=sy(y), xref="paper", yref="paper", text=s, showarrow=False,
                font=dict(family=FONT, size=size, color="black"), textangle=angle,
                xanchor="center", yanchor="middle")

layout["annotations"] = [
    text(402, 22, "Speed-up ratio of Simulated Threaded Code Generation", TITLE_FS),
    text(398, 700, "Speed-up ratio of PyPy 3.7's tracing JIT", TITLE_FS),
    text(402, 649, "#Iteration"),
    text(402, 1328, "#Iteration"),
    text(18, 330, "Related speed to interp. execution", TICK_FS, -90),
    text(18, 1010, "Related speed to interp. execution", TICK_FS, -90),
]

fig.update_layout(**layout)
fig.write_html("out.html")
